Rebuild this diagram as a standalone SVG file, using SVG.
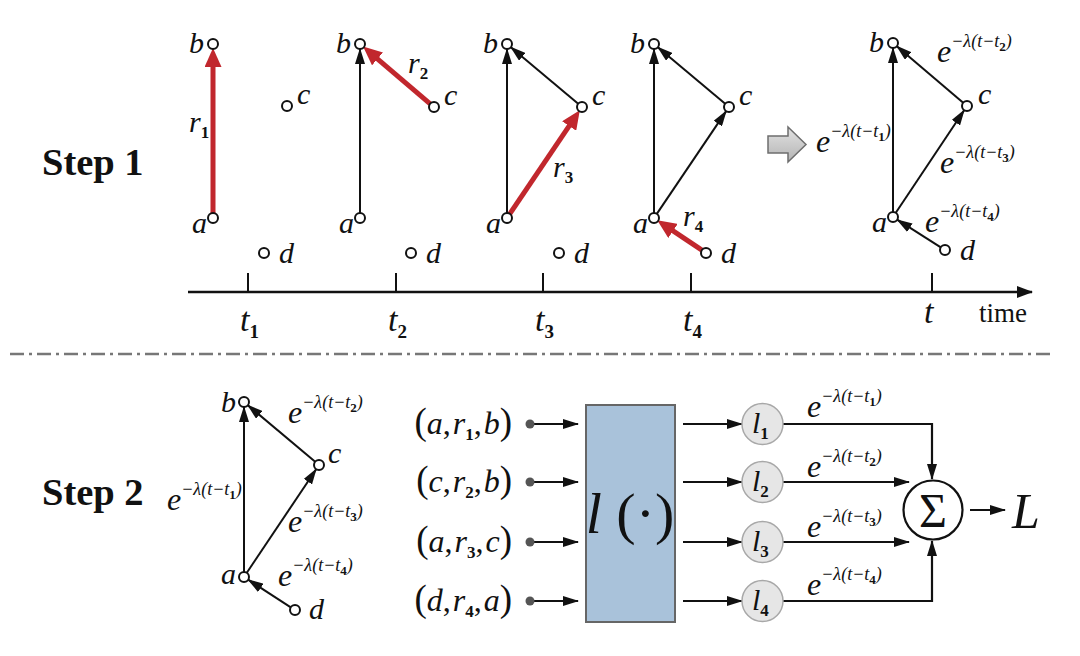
<svg xmlns="http://www.w3.org/2000/svg" width="1080" height="656" viewBox="0 0 1080 656" font-family="'Liberation Serif', 'DejaVu Serif', serif">
<defs>
<style>
text{font-family:"Liberation Serif","DejaVu Serif",serif;fill:#111}
.lbl{font-style:italic;font-size:30px}
.it{font-style:italic}
.e{font-style:italic;font-size:32px}
.sup{font-style:italic;font-size:18px}
.sub{font-size:13px;font-weight:bold;font-style:normal}
.rsub{font-size:17px;font-weight:bold;font-style:normal}
.step{font-weight:bold;font-size:38.5px}
.tup{font-size:32px}
.par{font-size:37px}
.n{fill:#fff;stroke:#111;stroke-width:2}
.edge{stroke:#111;stroke-width:2;fill:none;marker-end:url(#ah)}
.red{stroke:#c1272d;stroke-width:5;fill:none;marker-end:url(#rh)}
.conn{stroke:#111;stroke-width:2.2;fill:none;marker-end:url(#ah)}
.lc{fill:#e6e6e6;stroke:#a8a8a8;stroke-width:1.5}
</style>
<marker id="ah" markerUnits="userSpaceOnUse" markerWidth="16" markerHeight="10" viewBox="0 0 16 10" refX="15" refY="5" orient="auto"><path d="M0,0 L16,5 L0,10 z" fill="#111"/></marker>
<marker id="rh" markerUnits="userSpaceOnUse" markerWidth="19" markerHeight="17" viewBox="0 0 19 17" refX="4" refY="8.5" orient="auto"><path d="M0,0 L19,8.5 L0,17 z" fill="#c1272d"/></marker>
<marker id="th" markerUnits="userSpaceOnUse" markerWidth="16" markerHeight="12" viewBox="0 0 16 12" refX="15" refY="6" orient="auto"><path d="M0,0 L16,6 L0,12 z" fill="#111"/></marker>
<linearGradient id="ga" x1="0" y1="0" x2="0" y2="1"><stop offset="0" stop-color="#e2e2e2"/><stop offset="1" stop-color="#b4b4b4"/></linearGradient>
</defs>
<rect width="1080" height="656" fill="#fff"/>

<text class="step" x="42" y="175">Step 1</text>
<text class="step" x="42" y="505">Step 2</text>

<g id="connectors">
<line class="red" x1="213" y1="213" x2="213" y2="63"/>
<line class="edge" x1="360" y1="213" x2="360" y2="49"/>
<line class="red" x1="430.2" y1="103.8" x2="374.5" y2="56.3"/>
<line class="edge" x1="507" y1="213" x2="507" y2="49"/>
<line class="edge" x1="578.2" y1="103.8" x2="510.8" y2="47.2"/>
<line class="red" x1="509.8" y1="213.9" x2="571.4" y2="122.7"/>
<line class="edge" x1="654" y1="213" x2="654" y2="49"/>
<line class="edge" x1="725.2" y1="103.8" x2="657.8" y2="47.2"/>
<line class="edge" x1="656.8" y1="213.9" x2="726.2" y2="111.1"/>
<line class="red" x1="701.9" y1="250.2" x2="669.7" y2="228.6"/>
<line class="edge" x1="893" y1="212" x2="893" y2="48"/>
<line class="edge" x1="963.2" y1="102.8" x2="896.8" y2="46.2"/>
<line class="edge" x1="895.8" y1="212.8" x2="964.2" y2="110.2"/>
<line class="edge" x1="940.8" y1="247.3" x2="897.2" y2="219.7"/>
<line class="edge" x1="244" y1="572" x2="244" y2="407"/>
<line class="edge" x1="315.2" y1="461.8" x2="247.8" y2="405.2"/>
<line class="edge" x1="246.8" y1="572.8" x2="316.2" y2="469.2"/>
<line class="edge" x1="290.8" y1="607.3" x2="248.2" y2="579.7"/>
<line x1="188" y1="292" x2="1032" y2="292" stroke="#111" stroke-width="2.5" marker-end="url(#th)"/>
<g stroke="#111" stroke-width="2">
<line x1="248" y1="273" x2="248" y2="292"/>
<line x1="396" y1="273" x2="396" y2="292"/>
<line x1="543" y1="273" x2="543" y2="292"/>
<line x1="691" y1="273" x2="691" y2="292"/>
<line x1="932" y1="273" x2="932" y2="292"/>
</g>
<line x1="10" y1="354" x2="1050" y2="354" stroke="#777" stroke-width="2.5" stroke-dasharray="14 5 3 5"/>
<line class="conn" x1="532" y1="424" x2="578" y2="424"/>
<line class="conn" x1="532" y1="482" x2="578" y2="482"/>
<line class="conn" x1="532" y1="542" x2="578" y2="542"/>
<line class="conn" x1="532" y1="601" x2="578" y2="601"/>
<line class="conn" x1="683" y1="424" x2="742" y2="424"/>
<line class="conn" x1="683" y1="482" x2="742" y2="482"/>
<line class="conn" x1="683" y1="542" x2="742" y2="542"/>
<line class="conn" x1="683" y1="601" x2="742" y2="601"/>
<path class="conn" d="M783,424 H932 V479"/>
<path class="conn" d="M783,482 H909"/>
<path class="conn" d="M783,542 H909"/>
<path class="conn" d="M783,601 H932 V541"/>
<line class="conn" x1="970" y1="510" x2="1005" y2="510"/>
</g>

<g id="p1">
<circle class="n" cx="213" cy="44" r="5"/><circle class="n" cx="213" cy="218" r="5"/>
<circle class="n" cx="287" cy="106" r="5"/><circle class="n" cx="264" cy="253" r="5"/>
<text class="lbl" x="204" y="53" text-anchor="end">b</text>
<text class="lbl" x="207" y="233" text-anchor="end">a</text>
<text class="lbl" x="297" y="104">c</text>
<text class="lbl" x="279" y="263">d</text>
<text class="lbl" x="189" y="132">r<tspan class="rsub" dy="6">1</tspan></text>
</g>
<g id="p2">
<circle class="n" cx="360" cy="44" r="5"/><circle class="n" cx="360" cy="218" r="5"/>
<circle class="n" cx="434" cy="107" r="5"/><circle class="n" cx="411" cy="253" r="5"/>
<text class="lbl" x="351" y="53" text-anchor="end">b</text>
<text class="lbl" x="354" y="233" text-anchor="end">a</text>
<text class="lbl" x="444" y="105">c</text>
<text class="lbl" x="426" y="263">d</text>
<text class="lbl" x="408" y="73">r<tspan class="rsub" dy="6">2</tspan></text>
</g>
<g id="p3">
<circle class="n" cx="507" cy="44" r="5"/><circle class="n" cx="507" cy="218" r="5"/>
<circle class="n" cx="582" cy="107" r="5"/><circle class="n" cx="559" cy="253" r="5"/>
<text class="lbl" x="498" y="53" text-anchor="end">b</text>
<text class="lbl" x="501" y="233" text-anchor="end">a</text>
<text class="lbl" x="592" y="105">c</text>
<text class="lbl" x="574" y="263">d</text>
<text class="lbl" x="553" y="177">r<tspan class="rsub" dy="6">3</tspan></text>
</g>
<g id="p4">
<circle class="n" cx="654" cy="44" r="5"/><circle class="n" cx="654" cy="218" r="5"/>
<circle class="n" cx="729" cy="107" r="5"/><circle class="n" cx="706" cy="253" r="5"/>
<text class="lbl" x="645" y="53" text-anchor="end">b</text>
<text class="lbl" x="648" y="233" text-anchor="end">a</text>
<text class="lbl" x="739" y="105">c</text>
<text class="lbl" x="721" y="263">d</text>
<text class="lbl" x="683" y="226">r<tspan class="rsub" dy="6">4</tspan></text>
</g>
<g id="arrow">
<polygon points="768,136 788,136 788,127 806,144.5 788,162 788,153 768,153" fill="url(#ga)" stroke="#6e6e6e" stroke-width="1.5"/>
</g>
<g id="p5">
<circle class="n" cx="893" cy="43" r="5"/><circle class="n" cx="893" cy="217" r="5"/>
<circle class="n" cx="967" cy="106" r="5"/><circle class="n" cx="945" cy="250" r="5"/>
<text class="lbl" x="884" y="52" text-anchor="end">b</text>
<text class="lbl" x="887" y="232" text-anchor="end">a</text>
<text class="lbl" x="978" y="104">c</text>
<text class="lbl" x="960" y="260">d</text>
<text x="937" y="62"><tspan class="e">e</tspan><tspan class="sup" dy="-15">−λ(t−t</tspan><tspan class="sub" dy="4">2</tspan><tspan class="sup" dy="-4">)</tspan></text>
<text x="816" y="152"><tspan class="e">e</tspan><tspan class="sup" dy="-15">−λ(t−t</tspan><tspan class="sub" dy="4">1</tspan><tspan class="sup" dy="-4">)</tspan></text>
<text x="940" y="173"><tspan class="e">e</tspan><tspan class="sup" dy="-15">−λ(t−t</tspan><tspan class="sub" dy="4">3</tspan><tspan class="sup" dy="-4">)</tspan></text>
<text x="925" y="232"><tspan class="e">e</tspan><tspan class="sup" dy="-15">−λ(t−t</tspan><tspan class="sub" dy="4">4</tspan><tspan class="sup" dy="-4">)</tspan></text>
</g>
<g id="timeline">
<text class="lbl" x="240" y="331" style="font-size:34px">t<tspan class="rsub" dy="7" style="font-size:19px">1</tspan></text>
<text class="lbl" x="388" y="331" style="font-size:34px">t<tspan class="rsub" dy="7" style="font-size:19px">2</tspan></text>
<text class="lbl" x="535" y="331" style="font-size:34px">t<tspan class="rsub" dy="7" style="font-size:19px">3</tspan></text>
<text class="lbl" x="683" y="331" style="font-size:34px">t<tspan class="rsub" dy="7" style="font-size:19px">4</tspan></text>
<text class="lbl" x="924" y="323" style="font-size:34px">t</text>
<text x="979" y="322" style="font-size:27px">time</text>
</g>

<g id="s2graph">
<circle class="n" cx="244" cy="402" r="5"/><circle class="n" cx="244" cy="577" r="5"/>
<circle class="n" cx="319" cy="465" r="5"/><circle class="n" cx="295" cy="610" r="5"/>
<text class="lbl" x="236" y="412" text-anchor="end">b</text>
<text class="lbl" x="236" y="584" text-anchor="end">a</text>
<text class="lbl" x="328" y="463">c</text>
<text class="lbl" x="309" y="619">d</text>
<text x="288" y="423"><tspan class="e">e</tspan><tspan class="sup" dy="-15">−λ(t−t</tspan><tspan class="sub" dy="4">2</tspan><tspan class="sup" dy="-4">)</tspan></text>
<text x="167" y="510"><tspan class="e">e</tspan><tspan class="sup" dy="-15">−λ(t−t</tspan><tspan class="sub" dy="4">1</tspan><tspan class="sup" dy="-4">)</tspan></text>
<text x="288" y="532"><tspan class="e">e</tspan><tspan class="sup" dy="-15">−λ(t−t</tspan><tspan class="sub" dy="4">3</tspan><tspan class="sup" dy="-4">)</tspan></text>
<text x="278" y="586"><tspan class="e">e</tspan><tspan class="sup" dy="-15">−λ(t−t</tspan><tspan class="sub" dy="4">4</tspan><tspan class="sup" dy="-4">)</tspan></text>
</g>

<g id="inputs">
<g fill="#555"><circle cx="530" cy="424" r="4.5"/><circle cx="530" cy="482" r="4.5"/><circle cx="530" cy="542" r="4.5"/><circle cx="530" cy="601" r="4.5"/></g>
<text class="tup" x="512" y="434" text-anchor="end"><tspan class="par">(</tspan><tspan class="it">a</tspan>,<tspan class="it" dx="2">r</tspan><tspan class="rsub" dy="6">1</tspan><tspan dy="-6">,</tspan><tspan class="it" dx="2">b</tspan><tspan class="par">)</tspan></text>
<text class="tup" x="512" y="492" text-anchor="end"><tspan class="par">(</tspan><tspan class="it">c</tspan>,<tspan class="it" dx="2">r</tspan><tspan class="rsub" dy="6">2</tspan><tspan dy="-6">,</tspan><tspan class="it" dx="2">b</tspan><tspan class="par">)</tspan></text>
<text class="tup" x="512" y="552" text-anchor="end"><tspan class="par">(</tspan><tspan class="it">a</tspan>,<tspan class="it" dx="2">r</tspan><tspan class="rsub" dy="6">3</tspan><tspan dy="-6">,</tspan><tspan class="it" dx="2">c</tspan><tspan class="par">)</tspan></text>
<text class="tup" x="512" y="611" text-anchor="end"><tspan class="par">(</tspan><tspan class="it">d</tspan>,<tspan class="it" dx="2">r</tspan><tspan class="rsub" dy="6">4</tspan><tspan dy="-6">,</tspan><tspan class="it" dx="2">a</tspan><tspan class="par">)</tspan></text>
</g>

<g id="lbox">
<rect x="586" y="405" width="89" height="217" fill="#a9c2da" stroke="#666" stroke-width="2"/>
<text x="630" y="533" text-anchor="middle" style="font-size:58px"><tspan class="it">l</tspan> (·)</text>
</g>

<g id="l1"><circle class="lc" cx="762.5" cy="424" r="20.5"/><text class="lbl" x="752" y="433">l<tspan class="rsub" dy="6">1</tspan></text></g>
<g id="l2"><circle class="lc" cx="762.5" cy="482" r="20.5"/><text class="lbl" x="752" y="491">l<tspan class="rsub" dy="6">2</tspan></text></g>
<g id="l3"><circle class="lc" cx="762.5" cy="542" r="20.5"/><text class="lbl" x="752" y="551">l<tspan class="rsub" dy="6">3</tspan></text></g>
<g id="l4"><circle class="lc" cx="762.5" cy="601" r="20.5"/><text class="lbl" x="752" y="610">l<tspan class="rsub" dy="6">4</tspan></text></g>

<g id="weights">
<text x="807" y="417"><tspan class="e">e</tspan><tspan class="sup" dy="-15">−λ(t−t</tspan><tspan class="sub" dy="4">1</tspan><tspan class="sup" dy="-4">)</tspan></text>
<text x="807" y="477"><tspan class="e">e</tspan><tspan class="sup" dy="-15">−λ(t−t</tspan><tspan class="sub" dy="4">2</tspan><tspan class="sup" dy="-4">)</tspan></text>
<text x="807" y="537"><tspan class="e">e</tspan><tspan class="sup" dy="-15">−λ(t−t</tspan><tspan class="sub" dy="4">3</tspan><tspan class="sup" dy="-4">)</tspan></text>
<text x="807" y="595"><tspan class="e">e</tspan><tspan class="sup" dy="-15">−λ(t−t</tspan><tspan class="sub" dy="4">4</tspan><tspan class="sup" dy="-4">)</tspan></text>
</g>

<g id="sum">
<circle cx="933" cy="510" r="29.5" fill="#fff" stroke="#111" stroke-width="2.2"/>
<text x="933" y="527" text-anchor="middle" style="font-size:48px">Σ</text>
</g>
<g id="L"><text class="lbl" x="1012" y="528" style="font-size:50px">L</text></g>
</svg>
